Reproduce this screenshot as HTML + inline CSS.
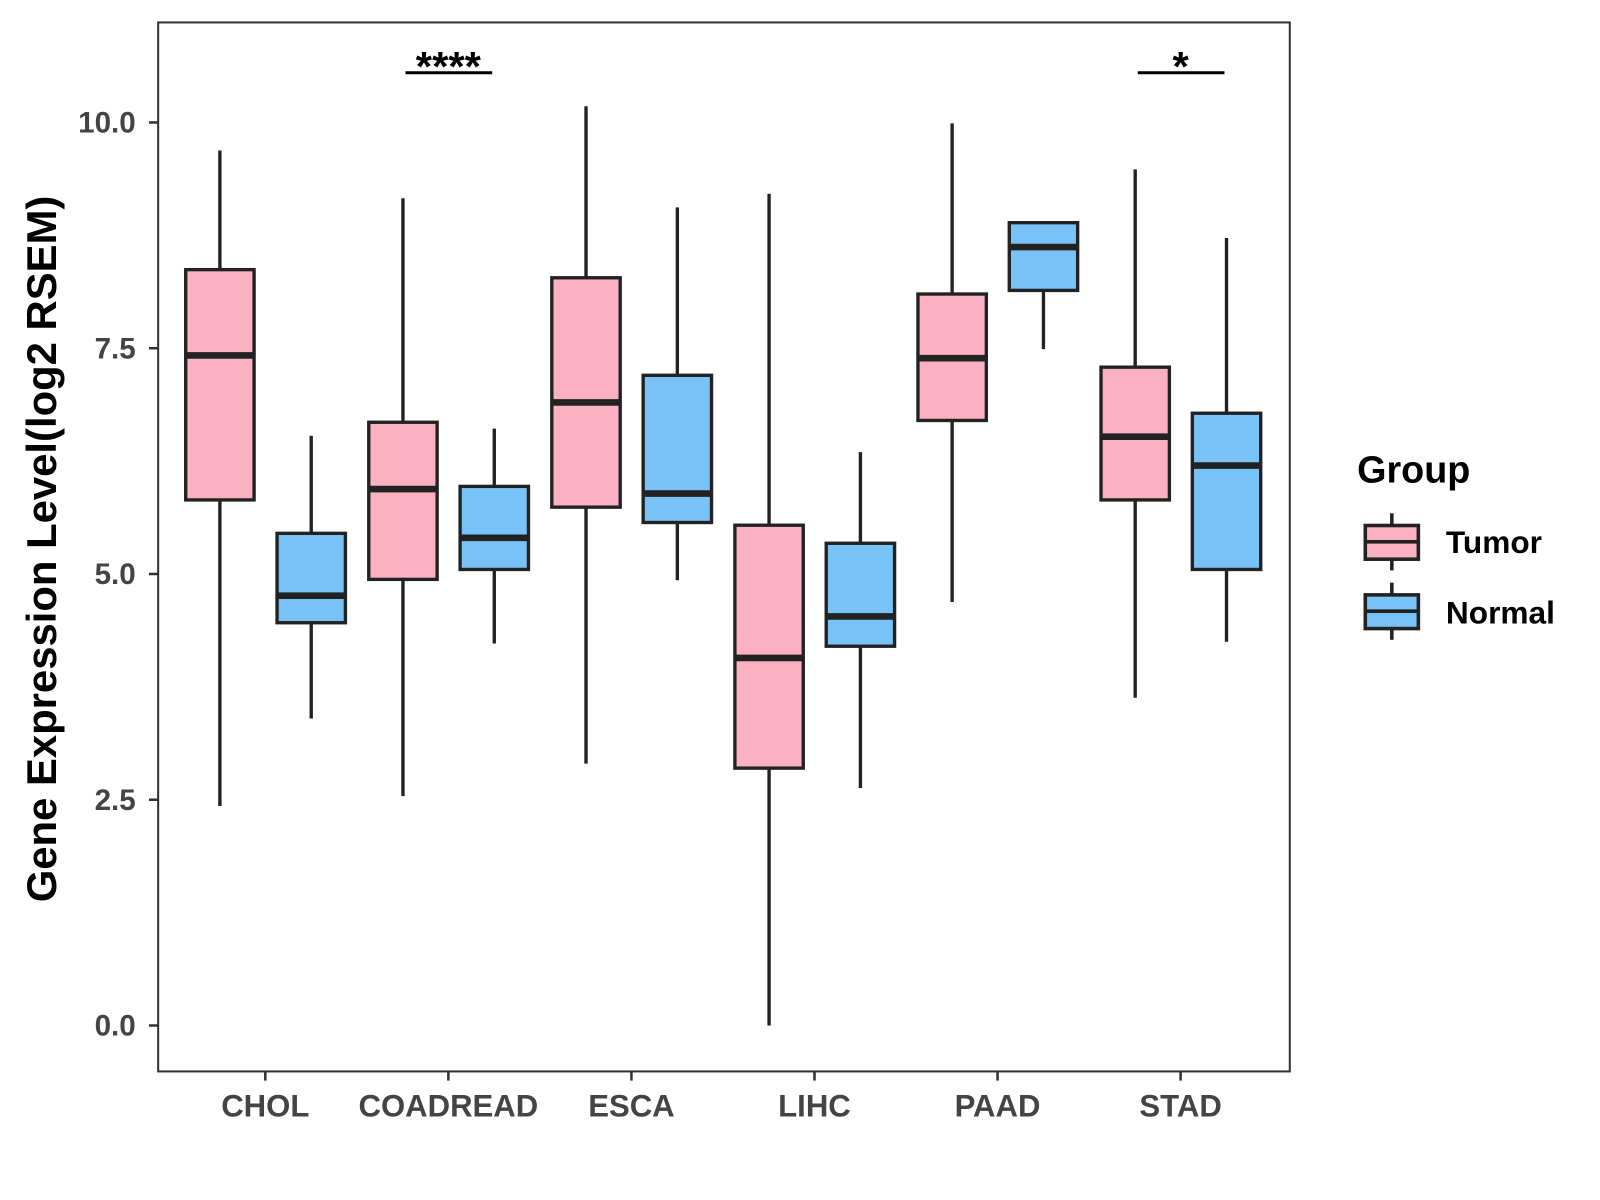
<!DOCTYPE html>
<html><head><meta charset="utf-8"><style>
html,body{margin:0;padding:0;background:#fff;}
svg{display:block;font-family:"Liberation Sans",Arial,sans-serif;}
</style></head><body>
<svg id="chart" width="1600" height="1200" xmlns="http://www.w3.org/2000/svg">
<g transform="scale(1.0204)">
<rect x="155" y="22" width="1109" height="1028" fill="#fff" stroke="#333" stroke-width="2"/>
<g id="yaxis"></g>
<g id="xaxis"></g>
<g id="boxes"></g>
<g id="sig"></g>
<text transform="translate(55,538) rotate(-90)" text-anchor="middle" font-size="41" font-weight="bold" fill="#000">Gene Expression Level(log2 RSEM)</text>
<g>
<text x="1330" y="473" font-size="37" font-weight="bold">Group</text>
<g>
<line x1="1364" y1="503" x2="1364" y2="559" stroke="#222" stroke-width="3.5"/>
<rect x="1338" y="515" width="52" height="33" fill="#FBB1C2" stroke="#222" stroke-width="3.5"/>
<line x1="1338" y1="531" x2="1390" y2="531" stroke="#222" stroke-width="3.5"/>
<text x="1417" y="542" font-size="31" font-weight="bold">Tumor</text></g>
<g>
<line x1="1364" y1="571" x2="1364" y2="627" stroke="#222" stroke-width="3.5"/>
<rect x="1338" y="583" width="52" height="33" fill="#78C2F8" stroke="#222" stroke-width="3.5"/>
<line x1="1338" y1="599" x2="1390" y2="599" stroke="#222" stroke-width="3.5"/>
<text x="1417" y="611" font-size="31" font-weight="bold">Normal</text></g>
</g>
</g>
</svg>
<script>
const categories=["CHOL","COADREAD","ESCA","LIHC","PAAD","STAD"];
// [lowerWhisker, q1, median, q3, upperWhisker]
const tumorStats=[[2.43,5.82,7.42,8.37,9.69],[2.54,4.94,5.94,6.68,9.16],[2.90,5.74,6.90,8.28,10.18],[0.0,2.85,4.07,5.54,9.21],[4.69,6.70,7.39,8.10,9.99],[3.63,5.82,6.52,7.29,9.48]];
const normalStats=[[3.40,4.46,4.76,5.45,6.53],[4.23,5.05,5.40,5.97,6.61],[4.93,5.57,5.89,7.20,9.06],[2.63,4.20,4.53,5.34,6.35],[7.49,8.14,8.62,8.89,8.89],[4.25,5.05,6.20,6.78,8.72]];
const yTicks=[0,2.5,5,7.5,10];
const yTickLabels=["0.0","2.5","5.0","7.5","10.0"];
const sigCategories=["COADREAD","STAD"];
const sigLabels=["****","*"];
const sigValue=10.55;

const NS="http://www.w3.org/2000/svg";
const y=v=>1005-88.5*v;
const x=i=>260+179.4*i;
function mk(tag,attrs,parent,text){const e=document.createElementNS(NS,tag);for(const k in attrs)e.setAttribute(k,attrs[k]);if(text!==undefined)e.textContent=text;parent.appendChild(e);return e;}
const ya=document.getElementById('yaxis');
yTicks.forEach((t,i)=>{
 const g=mk('g',{},ya);
 
 
 mk('line',{x1:146,x2:155,y1:y(t),y2:y(t),stroke:'#333','stroke-width':2.5},g);
 mk('text',{x:133,y:y(t)+10,'text-anchor':'end','font-size':29,'font-weight':'bold',fill:'#444'},g,yTickLabels[i]);
});
const xa=document.getElementById('xaxis');
categories.forEach((c,i)=>{
 const g=mk('g',{},xa);
 
 
 mk('line',{x1:x(i),x2:x(i),y1:1050,y2:1059,stroke:'#333','stroke-width':2.5},g);
 mk('text',{x:x(i),y:1094,'text-anchor':'middle','font-size':30.5,'font-weight':'bold',fill:'#444'},g,c);
});
const bx=document.getElementById('boxes');
function drawBox(i,s,off,fill,name){
 const cx=x(i)+off,w=67,g=mk('g',{},bx);
 
 
 mk('line',{x1:cx,x2:cx,y1:y(s[4]),y2:y(s[0]),stroke:'#222','stroke-width':3.3},g);
 mk('rect',{x:cx-w/2,y:y(s[3]),width:w,height:y(s[1])-y(s[3]),fill:fill,stroke:'#222','stroke-width':3.3},g);
 mk('line',{x1:cx-w/2,x2:cx+w/2,y1:y(s[2]),y2:y(s[2]),stroke:'#222','stroke-width':6.5},g);
}
categories.forEach((c,i)=>{
 drawBox(i,tumorStats[i],-44.5,'#FBB1C2','box-'+c.toLowerCase()+'-tumor');
 drawBox(i,normalStats[i],45,'#78C2F8','box-'+c.toLowerCase()+'-normal');
});
const sg=document.getElementById('sig');
sigCategories.forEach((c,k)=>{
 const i=categories.indexOf(c),g=mk('g',{},sg);
 
 
 mk('line',{x1:x(i)-42,x2:x(i)+43,y1:y(sigValue),y2:y(sigValue),stroke:'#000','stroke-width':3},g);
 mk('text',{x:x(i),y:y(sigValue)+8,'text-anchor':'middle','font-size':41,'font-weight':'bold'},g,sigLabels[k]);
});
</script>
</body></html>
